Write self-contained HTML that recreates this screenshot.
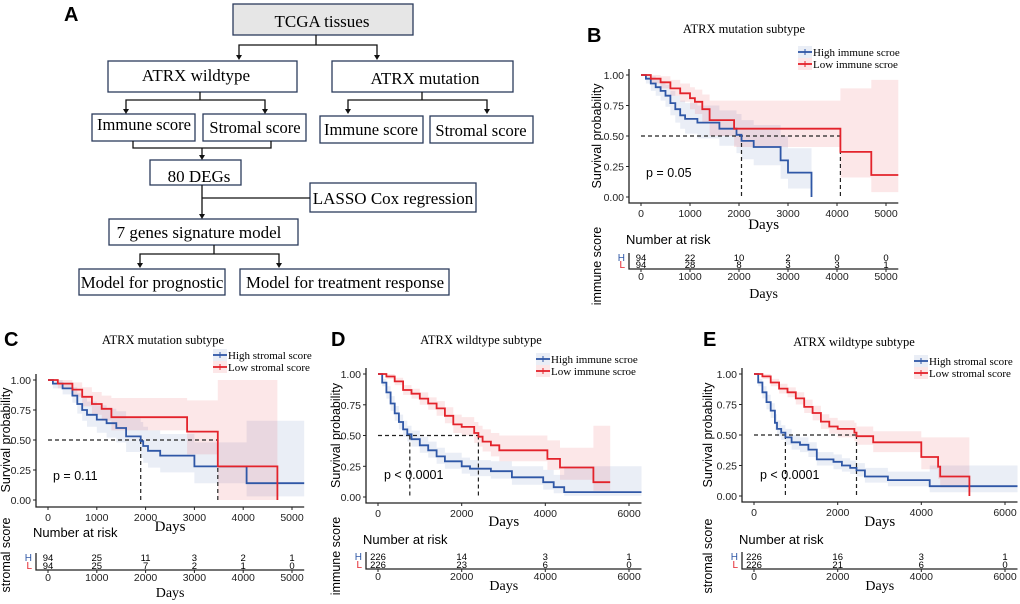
<!DOCTYPE html>
<html><head><meta charset="utf-8"><style>
body{margin:0;background:#fff;width:1020px;height:604px;overflow:hidden}
svg{display:block}
</style></head><body>
<svg id="fig" width="1020" height="604" viewBox="0 0 1020 604">
<g id="flow" font-family="Liberation Serif, serif" font-size="17" fill="#000">
<text x="64" y="21" font-family="Liberation Sans, sans-serif" font-weight="bold" font-size="20">A</text>
<g stroke="#2b3b5c" stroke-width="1.3">
<rect x="233" y="4" width="180" height="31" fill="#e6e6e6"/>
<rect x="108" y="61" width="189" height="31" fill="#fff"/>
<rect x="332" y="61" width="181" height="31" fill="#fff"/>
<rect x="92" y="114" width="103" height="27" fill="#fff"/>
<rect x="203" y="114" width="103" height="27" fill="#fff"/>
<rect x="320" y="116" width="103" height="27" fill="#fff"/>
<rect x="430" y="116" width="103" height="27" fill="#fff"/>
<rect x="150" y="160" width="91" height="25" fill="#fff"/>
<rect x="310" y="183" width="166" height="29" fill="#fff"/>
<rect x="109" y="219" width="189" height="26" fill="#fff"/>
<rect x="79" y="269" width="146" height="26" fill="#fff"/>
<rect x="240" y="269" width="209" height="26" fill="#fff"/>
</g>
<g stroke="#111" stroke-width="1.3" fill="none">
<path d="M316 35V45H239V56M316 45H377V56"/>
<path d="M200 92V100H126V110M200 100H265V110"/>
<path d="M422 92V100H348V110M422 100H487V110"/>
<path d="M133 141V148H271V141M202 148V156"/>
<path d="M202 185V215M202 198H310"/>
<path d="M214 245V254H140V264M214 254H279V264"/>
</g>
<g fill="#111">
<path d="M236 55h6l-3 5z"/><path d="M374 55h6l-3 5z"/>
<path d="M123 109h6l-3 5z"/><path d="M262 109h6l-3 5z"/>
<path d="M345 109h6l-3 5z"/><path d="M484 109h6l-3 5z"/>
<path d="M199 155h6l-3 5z"/><path d="M199 214h6l-3 5z"/>
<path d="M137 263h6l-3 5z"/><path d="M276 263h6l-3 5z"/>
</g>
<text x="322" y="27" text-anchor="middle">TCGA tissues</text>
<text x="196" y="81" text-anchor="middle">ATRX wildtype</text>
<text x="425" y="84" text-anchor="middle">ATRX mutation</text>
<text x="144" y="130" text-anchor="middle" font-size="16.5">Immune score</text>
<text x="255" y="133" text-anchor="middle" font-size="16.5">Stromal score</text>
<text x="371" y="135" text-anchor="middle" font-size="16.5">Immune score</text>
<text x="481" y="136" text-anchor="middle" font-size="16.5">Stromal score</text>
<text x="199" y="182" text-anchor="middle">80 DEGs</text>
<text x="393" y="204" text-anchor="middle">LASSO Cox regression</text>
<text x="199" y="238" text-anchor="middle">7 genes signature model</text>
<text x="152" y="288" text-anchor="middle" font-size="16.8">Model for prognostic</text>
<text x="345" y="288" text-anchor="middle" font-size="16.8">Model for treatment response</text>
</g>
</svg>
<script>
// ---------- data ----------
const bHighT=[0,100,200,300,400,500,600,700,800,900,1150,1600,1950,2050,2300,2850,3000,3480];
const bHighS=[1,.97,.93,.90,.87,.83,.77,.72,.67,.64,.61,.56,.51,.46,.41,.30,.20,0];
const bHighHi=[1,1,.99,.97,.95,.92,.87,.83,.79,.77,.75,.71,.68,.63,.59,.50,.40,.40];
const bHighLo=[1,.93,.87,.83,.79,.74,.67,.61,.56,.52,.48,.42,.36,.31,.26,.15,.07,.07];
const bLowT=[0,200,400,600,800,1000,1100,1250,1400,1900,4070,4700];
const bLowS=[1,.97,.94,.89,.85,.81,.78,.72,.63,.56,.37,.18];
const bLowHi=[1,1,.99,.96,.93,.90,.88,.84,.79,.79,.89,.96];
const bLowLo=[1,.93,.89,.83,.78,.72,.68,.61,.50,.41,.16,.04];
const bEnd=[3480,5250];
const bMed=[2050,4070];
const bRiskT=[0,1000,2000,3000,4000,5000];
const bRiskH=[94,22,10,2,0,0];
const bRiskL=[94,28,8,3,3,1];

const cHighT=[0,100,300,500,600,700,800,1000,1200,1400,1600,1900,1950,2050,2300,3000,4070];
const cHighS=[1,.97,.93,.87,.80,.75,.71,.67,.64,.60,.53,.49,.45,.41,.37,.28,.14];
const cHighHi=[1,1,.98,.94,.89,.85,.82,.79,.76,.74,.68,.65,.61,.58,.55,.48,.66];
const cHighLo=[1,.93,.88,.81,.72,.66,.61,.56,.52,.48,.40,.35,.31,.27,.23,.14,.03];
const cLowT=[0,200,500,700,900,1100,1300,2850,3480,4700];
const cLowS=[1,.97,.92,.86,.80,.76,.69,.57,.28,0];
const cLowHi=[1,1,.98,.94,.90,.87,.85,.83,1,1];
const cLowLo=[1,.93,.86,.78,.71,.66,.58,.38,0,0];
const cEnd=[5250,4700];
const cMed=[1900,3480];
const cRiskT=[0,1000,2000,3000,4000,5000];
const cRiskH=[94,25,11,3,2,1];
const cRiskL=[94,25,7,2,1,0];

const dHighT=[0,100,200,300,400,500,600,700,800,1000,1200,1400,1600,2000,2200,2700,3200,3950,4200,4450];
const dHighS=[1,.93,.85,.76,.68,.61,.55,.51,.47,.42,.38,.33,.29,.25,.23,.21,.16,.12,.08,.04];
const dHighHi=[1,.96,.90,.82,.74,.67,.62,.58,.54,.49,.45,.40,.36,.32,.30,.29,.25,.22,.18,.25];
const dHighLo=[1,.90,.80,.70,.62,.55,.49,.45,.41,.36,.32,.27,.23,.19,.17,.15,.10,.06,.03,.01];
const dLowT=[0,200,400,600,800,1000,1200,1400,1600,1800,2000,2300,2400,2500,2700,2900,4050,4350,5150];
const dLowS=[1,.98,.94,.87,.84,.80,.76,.72,.66,.59,.57,.52,.49,.45,.42,.38,.31,.24,.12];
const dLowHi=[1,1,.97,.91,.88,.85,.81,.78,.73,.67,.65,.61,.58,.55,.52,.50,.46,.40,.58];
const dLowLo=[1,.96,.91,.83,.80,.75,.71,.66,.60,.52,.50,.44,.41,.37,.33,.29,.22,.14,.05];
const dEnd=[6300,5550];
const dMed=[760,2400];
const dRiskT=[0,2000,4000,6000];
const dRiskH=[226,14,3,1];
const dRiskL=[226,23,6,0];

const eHighT=[0,100,200,300,400,500,550,650,750,900,1100,1300,1500,1900,2100,2300,2450,2650,3200,4200];
const eHighS=[1,.93,.85,.77,.70,.60,.55,.52,.48,.44,.42,.38,.30,.28,.25,.23,.21,.16,.13,.08];
const eHighHi=[1,.96,.90,.83,.76,.67,.62,.58,.55,.50,.48,.44,.36,.34,.31,.29,.27,.23,.20,.25];
const eHighLo=[1,.90,.80,.71,.64,.54,.49,.46,.42,.38,.36,.32,.25,.22,.20,.18,.16,.11,.08,.03];
const eLowT=[0,200,400,600,800,1000,1200,1400,1600,1800,2000,2400,2450,2850,4000,4400,4450,5150];
const eLowS=[1,.98,.93,.88,.85,.80,.73,.68,.61,.57,.55,.52,.49,.44,.32,.24,.16,0];
const eLowHi=[1,1,.96,.92,.89,.85,.79,.74,.67,.64,.62,.60,.57,.53,.48,.48,.48,.48];
const eLowLo=[1,.96,.90,.84,.81,.75,.68,.62,.55,.51,.48,.45,.42,.36,.22,.14,.07,.07];
const eEnd=[6300,5150];
const eMed=[750,2450];
const eRiskT=[0,2000,4000,6000];
const eRiskH=[226,16,3,1];
const eRiskL=[226,21,6,0];

const panels=[
 {id:'b',letter:'B',lx:587,ly:42,title:'ATRX mutation subtype',tx:744,ty:33,ox:641,px:245/5000,xmax:5250,y1:75,y0:197,axL:629,axB:203,
  ticks:[0,1000,2000,3000,4000,5000],leg:['High immune scroe','Low immune scroe'],legX:798,legY:52,p:'p = 0.05',pX:646,pY:177,
  daysY:229,narY:244,rowH:258,rowL:265,raxY:269,rtY:280,days2Y:298,ylabX:601,rlab:'immune score',rlabY:266,
  hT:bHighT,hS:bHighS,hHi:bHighHi,hLo:bHighLo,lT:bLowT,lS:bLowS,lHi:bLowHi,lLo:bLowLo,end:bEnd,med:bMed,rT:bRiskT,rH:bRiskH,rL:bRiskL},
 {id:'c',letter:'C',lx:4,ly:346,title:'ATRX mutation subtype',tx:163,ty:344,ox:48,px:244/5000,xmax:5250,y1:380,y0:500,axL:36,axB:507,
  ticks:[0,1000,2000,3000,4000,5000],leg:['High stromal score','Low stromal score'],legX:213,legY:355,p:'p = 0.11',pX:53,pY:480,
  daysY:531,narY:537,rowH:558,rowL:566,raxY:570,rtY:581,days2Y:597,ylabX:10,rlab:'stromal score',rlabY:555,
  hT:cHighT,hS:cHighS,hHi:cHighHi,hLo:cHighLo,lT:cLowT,lS:cLowS,lHi:cLowHi,lLo:cLowLo,end:cEnd,med:cMed,rT:cRiskT,rH:cRiskH,rL:cRiskL},
 {id:'d',letter:'D',lx:331,ly:346,title:'ATRX wildtype subtype',tx:481,ty:344,ox:378,px:251/6000,xmax:6300,y1:374,y0:497,axL:366,axB:503,
  ticks:[0,2000,4000,6000],leg:['High immune scroe','Low immune scroe'],legX:536,legY:359,p:'p < 0.0001',pX:384,pY:479,
  daysY:526,narY:544,rowH:557,rowL:565,raxY:569,rtY:580,days2Y:590,ylabX:340,rlab:'immune score',rlabY:556,
  hT:dHighT,hS:dHighS,hHi:dHighHi,hLo:dHighLo,lT:dLowT,lS:dLowS,lHi:dLowHi,lLo:dLowLo,end:dEnd,med:dMed,rT:dRiskT,rH:dRiskH,rL:dRiskL},
 {id:'e',letter:'E',lx:703,ly:346,title:'ATRX wildtype subtype',tx:854,ty:346,ox:754,px:251/6000,xmax:6300,y1:374,y0:496,axL:742,axB:502,
  ticks:[0,2000,4000,6000],leg:['High stromal score','Low stromal score'],legX:914,legY:361,p:'p < 0.0001',pX:760,pY:479,
  daysY:526,narY:544,rowH:557,rowL:565,raxY:569,rtY:580,days2Y:590,ylabX:712,rlab:'stromal score',rlabY:556,
  hT:eHighT,hS:eHighS,hHi:eHighHi,hLo:eHighLo,lT:eLowT,lS:eLowS,lHi:eLowHi,lLo:eLowLo,end:eEnd,med:eMed,rT:eRiskT,rH:eRiskH,rL:eRiskL}
];
const NS='http://www.w3.org/2000/svg';
const fig=document.getElementById('fig');
function mk(tag,attrs,parent,txt){const e=document.createElementNS(NS,tag);for(const k in attrs)e.setAttribute(k,attrs[k]);if(txt!==undefined)e.textContent=txt;parent.appendChild(e);return e;}
const BLUE='#2f57a6',RED='#e3232b',BBAND='rgba(47,87,166,0.10)',RBAND='rgba(227,35,43,0.11)';
function stepPath(T,S,end,X,Y){let d='M'+X(T[0])+' '+Y(S[0]);for(let i=1;i<T.length;i++){d+='H'+X(T[i])+'V'+Y(S[i]);}d+='H'+X(end);return d;}
function bandPath(T,Hi,Lo,end,X,Y){let d='M'+X(T[0])+' '+Y(Hi[0]);for(let i=1;i<T.length;i++)d+='H'+X(T[i])+'V'+Y(Hi[i]);d+='H'+X(end)+'V'+Y(Lo[Lo.length-1]);for(let i=T.length-1;i>0;i--)d+='H'+X(T[i])+'V'+Y(Lo[i-1]);d+='H'+X(T[0])+'Z';return d;}
panels.forEach(P=>{
 const X=t=>(P.ox+t*P.px).toFixed(1), Y=s=>(P.y0-(P.y0-P.y1)*s).toFixed(1);
 const g=mk('g',{},fig);
 
 
 const lt=mk('text',{x:P.lx,y:P.ly,'font-family':'Liberation Sans, sans-serif','font-weight':'bold','font-size':20},g,P.letter);
 
 
 const tt=mk('text',{x:P.tx,y:P.ty,'text-anchor':'middle','font-family':'Liberation Serif, serif','font-size':12.5},g,P.title);
 
 
 const hb=mk('path',{d:bandPath(P.hT,P.hHi,P.hLo,P.end[0],X,Y),fill:BBAND},g);
 
 
 const lb=mk('path',{d:bandPath(P.lT,P.lHi,P.lLo,P.end[1],X,Y),fill:RBAND},g);
 
 
 const md=mk('path',{d:'M'+X(0)+' '+Y(.5)+'H'+X(P.med[1])+'M'+X(P.med[0])+' '+Y(.5)+'V'+Y(0)+'M'+X(P.med[1])+' '+Y(.5)+'V'+Y(0),stroke:'#222','stroke-dasharray':'4 3',fill:'none','stroke-width':1.2},g);
 
 
 const hc=mk('path',{d:stepPath(P.hT,P.hS,P.end[0],X,Y),stroke:BLUE,fill:'none','stroke-width':1.8},g);
 
 
 const lc=mk('path',{d:stepPath(P.lT,P.lS,P.end[1],X,Y),stroke:RED,fill:'none','stroke-width':1.8},g);
 
 
 const right=P.ox+P.xmax*P.px;
 const ax=mk('path',{d:'M'+P.axL+' '+(P.y1-6)+'V'+P.axB+'H'+right.toFixed(1),stroke:'#222',fill:'none','stroke-width':1.3},g);
 
 
 [0,.25,.5,.75,1].forEach(v=>{
  mk('line',{x1:P.axL-3,x2:P.axL,y1:Y(v),y2:Y(v),stroke:'#222'},g);
  const t=mk('text',{x:P.axL-5,y:+Y(v)+4,'text-anchor':'end','font-family':'Liberation Sans, sans-serif','font-size':10.5,fill:'#222'},g,v.toFixed(2));
  
  
 });
 P.ticks.forEach(v=>{
  mk('line',{x1:X(v),x2:X(v),y1:P.axB,y2:P.axB+3,stroke:'#222'},g);
  const t=mk('text',{x:X(v),y:P.axB+14,'text-anchor':'middle','font-family':'Liberation Sans, sans-serif','font-size':10.5,fill:'#222'},g,v);
  
  
 });
 const yl=mk('text',{x:P.ylabX,y:(P.y1+P.y0)/2,transform:'rotate(-90 '+P.ylabX+' '+((P.y1+P.y0)/2)+')','text-anchor':'middle','font-family':'Liberation Sans, sans-serif','font-size':12.5},g,'Survival probability');
 
 
 const cx=(P.axL+right)/2;
 const dl=mk('text',{x:cx,y:P.daysY,'text-anchor':'middle','font-family':'Liberation Serif, serif','font-size':15},g,'Days');
 
 
 const pt=mk('text',{x:P.pX,y:P.pY,'font-family':'Liberation Sans, sans-serif','font-size':12.5},g,P.p);
 
 
 [[BLUE,BBAND,P.leg[0],P.legY],[RED,RBAND,P.leg[1],P.legY+12]].forEach(([c,bg,txt,y],i)=>{
  mk('rect',{x:P.legX,y:y-6,width:14,height:12,fill:bg},g);
  mk('line',{x1:P.legX,x2:P.legX+14,y1:y,y2:y,stroke:c,'stroke-width':1.8},g);
  mk('line',{x1:P.legX+7,x2:P.legX+7,y1:y-3,y2:y+3,stroke:c,'stroke-width':1},g);
  const t=mk('text',{x:P.legX+15,y:y+4,'font-family':'Liberation Serif, serif','font-size':11},g,txt);
  
  
 });
 const nr=mk('text',{x:P.axL-3,y:P.narY,'font-family':'Liberation Sans, sans-serif','font-size':13},g,'Number at risk');
 
 
 mk('path',{d:'M'+P.axL+' '+(P.rowH-5)+'V'+P.raxY+'H'+right.toFixed(1),stroke:'#222',fill:'none','stroke-width':1.3},g);
 [['H',BLUE,P.rowH,P.rH],['L',RED,P.rowL,P.rL]].forEach(([lab,c,y,arr])=>{
  const l=mk('text',{x:P.axL-4,y:y+3,'text-anchor':'end','font-family':'Liberation Sans, sans-serif','font-size':10,fill:c},g,lab);
  
  
  arr.forEach((n,i)=>{
   const t=mk('text',{x:X(P.rT[i]),y:y+3,'text-anchor':'middle','font-family':'Liberation Sans, sans-serif','font-size':9.5},g,n);
   
   
  });
 });
 P.ticks.forEach(v=>{
  mk('line',{x1:X(v),x2:X(v),y1:P.raxY,y2:P.raxY+3,stroke:'#222'},g);
  const t=mk('text',{x:X(v),y:P.rtY,'text-anchor':'middle','font-family':'Liberation Sans, sans-serif','font-size':10.5,fill:'#222'},g,v);
  
  
 });
 const d2=mk('text',{x:cx,y:P.days2Y,'text-anchor':'middle','font-family':'Liberation Serif, serif','font-size':14},g,'Days');
 
 
 const rl=mk('text',{x:P.ylabX,y:P.rlabY,transform:'rotate(-90 '+P.ylabX+' '+P.rlabY+')','text-anchor':'middle','font-family':'Liberation Sans, sans-serif','font-size':12.5},g,P.rlab);
 
 
});
</script>
</body></html>
